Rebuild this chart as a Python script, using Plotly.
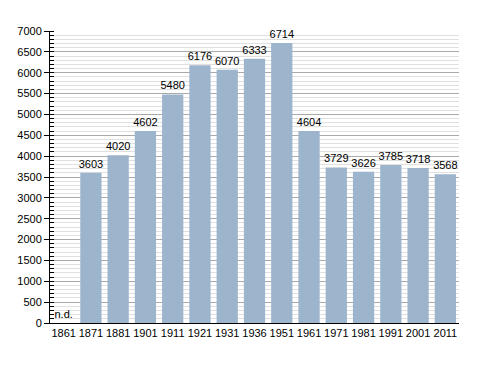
import plotly.graph_objects as go

years = ["1861", "1871", "1881", "1901", "1911", "1921", "1931", "1936",
         "1951", "1961", "1971", "1981", "1991", "2001", "2011"]
population = [0, 3603, 4020, 4602, 5480, 6176, 6070, 6333,
              6714, 4604, 3729, 3626, 3785, 3718, 3568]
labels = ["n.d.", "3603", "4020", "4602", "5480", "6176", "6070", "6333",
          "6714", "4604", "3729", "3626", "3785", "3718", "3568"]

FONT = "Liberation Sans, Arial, sans-serif"

fig = go.Figure(go.Bar(
    x=years, y=population, text=labels, textposition="outside",
    textfont=dict(size=11, color="black", family=FONT),
    marker=dict(color="#9db4cd", line=dict(width=0)),
    cliponaxis=False,
))

# page body has a default 8px margin, so figure is sized/offset accordingly
fig.update_layout(
    width=480, height=365,
    margin=dict(l=42, r=29, t=23, b=50, autoexpand=False),
    paper_bgcolor="white", plot_bgcolor="white",
    bargap=0.22,
    showlegend=False,
    uniformtext=dict(minsize=11, mode="show"),
    font=dict(family=FONT, size=11, color="black"),
    xaxis=dict(
        type="category", showline=True, linecolor="black", linewidth=1,
        ticks="", showgrid=False, tickfont=dict(size=11), automargin=False,
    ),
    yaxis=dict(
        range=[0, 7000], dtick=500, tick0=0,
        showline=True, linecolor="black", linewidth=1,
        ticks="outside", ticklen=5, tickcolor="black",
        showgrid=True, gridcolor="#aaaaaa", gridwidth=1,
        zeroline=False, tickfont=dict(size=11), automargin=False,
        minor=dict(dtick=100, showgrid=True, gridcolor="#e0e0e0",
                   ticks="inside", ticklen=4, tickcolor="black"),
    ),
)

fig.write_html("out.html")
